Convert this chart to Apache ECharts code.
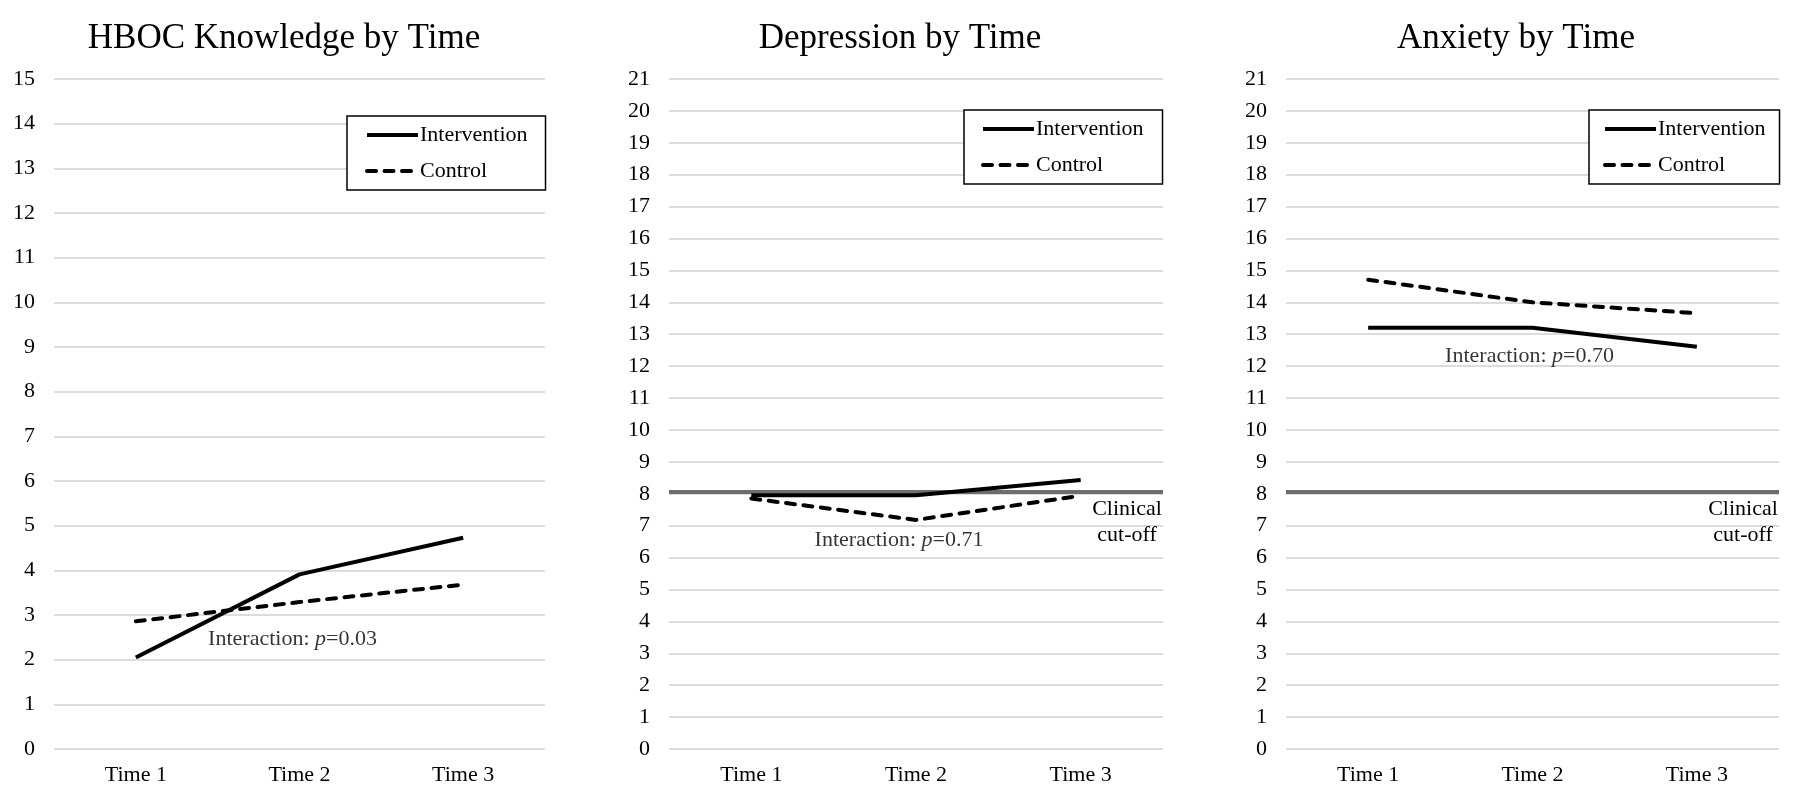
<!DOCTYPE html>
<html>
<head>
<meta charset="utf-8">
<script src="https://cdn.jsdelivr.net/npm/echarts@6/dist/echarts.min.js"></script>
<style>html,body{margin:0;padding:0;background:#fff}#c{width:1800px;height:800px}</style>
</head>
<body>
<div id="c"></div>
<script>
// ---- data ----
const categories = ['Time 1', 'Time 2', 'Time 3'];
const titles = ['HBOC Knowledge by Time', 'Depression by Time', 'Anxiety by Time'];
const seriesNames = ['Intervention', 'Control'];
const knowledgeIntervention = [2.05, 3.91, 4.73];
const knowledgeControl = [2.86, 3.29, 3.68];
const depressionIntervention = [7.95, 7.95, 8.43];
const depressionControl = [7.85, 7.18, 7.94];
const anxietyIntervention = [13.2, 13.2, 12.61];
const anxietyControl = [14.71, 14.0, 13.66];
const yMax = [15, 21, 21];
const clinicalCutoff = 8.07;
const cutoffLabel = ['Clinical', 'cut-off'];
const interactionP = ['0.03', '0.71', '0.70'];
const interactionAt = [2.45, 6.55, 12.32]; // y value where the note sits, at Time 2

const FONT = '"Liberation Serif", "Times New Roman", serif';
const FS = 22;
const grids = [
  {left: 54, top: 79, width: 491, height: 670},
  {left: 669, top: 79, width: 494, height: 670},
  {left: 1286, top: 79, width: 493, height: 670}
];
const titleX = [279, 895, 1511];
const legendPos = [
  {left: 347, top: 116, padding: [8, 18, 8, 18]},
  {left: 964, top: 110, padding: [8, 19, 8, 17]},
  {left: 1589, top: 110, padding: [8, 14, 8, 14]}
];
const noteOffset = [[-7, 0], [-17, 0], [-3, 0]];
const interventionData = [knowledgeIntervention, depressionIntervention, anxietyIntervention];
const controlData = [knowledgeControl, depressionControl, anxietyControl];

const option = {
  animation: false,
  backgroundColor: '#fff',
  textStyle: {fontFamily: FONT, color: '#000'},
  title: titles.map((t, i) => ({
    text: t, left: titleX[i], top: 16, textAlign: 'center',
    textStyle: {fontFamily: FONT, fontSize: 35, fontWeight: 'normal', color: '#000'}
  })),
  legend: legendPos.map((p) => ({
    data: seriesNames, orient: 'vertical', left: p.left, top: p.top,
    padding: p.padding, itemGap: 14, itemWidth: 51, itemHeight: 14,
    borderColor: '#000', borderWidth: 1.5, backgroundColor: '#fff',
    selectedMode: false,
    itemStyle: {opacity: 0, borderWidth: 0},
    lineStyle: {width: 4},
    textStyle: {fontFamily: FONT, fontSize: FS, color: '#000', padding: [0, 0, 0, -3]}
  })),
  grid: grids,
  xAxis: grids.map((g, i) => ({
    type: 'category', gridIndex: i, data: categories, boundaryGap: true,
    axisLine: {show: false}, axisTick: {show: false},
    axisLabel: {fontFamily: FONT, fontSize: FS, color: '#000', margin: 15}
  })),
  yAxis: grids.map((g, i) => ({
    type: 'value', gridIndex: i, min: 0, max: yMax[i], interval: 1,
    axisLine: {show: false}, axisTick: {show: false},
    axisLabel: {fontFamily: FONT, fontSize: FS, color: '#000', margin: 19},
    splitLine: {lineStyle: {color: '#d0d0d0', width: 1.5}}
  })),
  series: []
};

for (let i = 0; i < 3; i++) {
  const ctrl = {
    name: 'Control', type: 'line', xAxisIndex: i, yAxisIndex: i,
    data: controlData[i], symbol: 'none', z: 3,
    lineStyle: {color: '#000', width: 4, type: [9, 8.5], cap: 'round'},
    itemStyle: {color: '#000'}
  };
  if (i > 0) {
    ctrl.markLine = {
      silent: true, symbol: 'none', z: 1,
      lineStyle: {color: '#6e6e6e', width: 4, type: 'solid', cap: 'butt'},
      label: {
        show: true, position: 'insideEndBottom', distance: [0, 5],
        formatter: '{c|' + cutoffLabel[0] + '}\n{c|' + cutoffLabel[1] + '}',
        rich: {c: {fontFamily: FONT, fontSize: FS, color: '#000', width: 72, align: 'center', lineHeight: 26}}
      },
      data: [{yAxis: clinicalCutoff}]
    };
  }
  option.series.push({
    name: 'Intervention', type: 'line', xAxisIndex: i, yAxisIndex: i,
    data: interventionData[i], symbol: 'none', z: 4,
    lineStyle: {color: '#000', width: 4, type: 'solid'},
    itemStyle: {color: '#000'}
  });
  option.series.push(ctrl);
  option.series.push({
    name: 'note', type: 'scatter', xAxisIndex: i, yAxisIndex: i,
    symbolSize: 0, silent: true, z: 5,
    data: [[categories[1], interactionAt[i]]],
    label: {
      show: true, position: 'inside', offset: noteOffset[i],
      formatter: '{n|Interaction: }{i|p}{n|=' + interactionP[i] + '}',
      rich: {
        n: {fontFamily: FONT, fontSize: FS, color: '#000'},
        i: {fontFamily: FONT, fontSize: FS, color: '#000', fontStyle: 'italic'}
      }
    }
  });
}

const chart = echarts.init(document.getElementById('c'), null, {renderer: 'canvas'});
chart.setOption(option);
</script>
</body>
</html>
